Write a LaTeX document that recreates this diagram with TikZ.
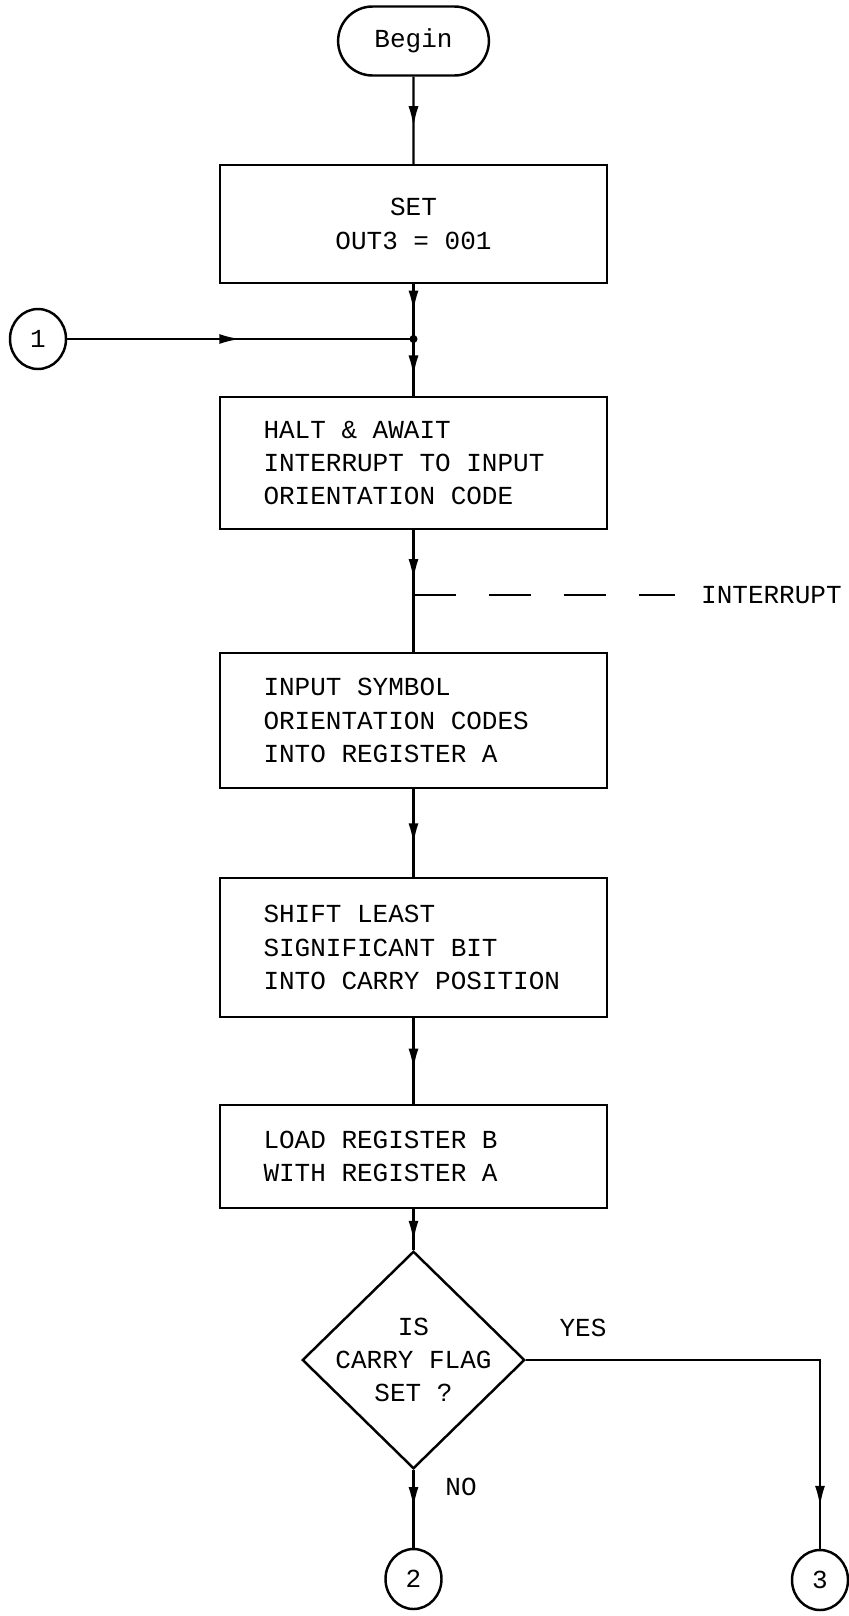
\documentclass[tikz,border=0pt]{standalone}
\usepackage{fontspec}
\setmonofont{Liberation Mono}
\usetikzlibrary{shapes.geometric,shapes.misc,decorations.markings,arrows.meta}
\newcommand{\flowfont}{\ttfamily\fontsize{14.8}{19}\selectfont
  \fontdimen2\font=8.88pt\relax\fontdimen3\font=0pt\relax\fontdimen4\font=0pt\relax}

\begin{document}
\begin{tikzpicture}[
  every node/.style={font=\flowfont},
  flow/.style={line width=1.4pt},
  midarr/.style={postaction={decorate, decoration={markings,
      mark=at position #1 with {\arrow{Latex[length=0.42cm,width=0.2cm]}}}}},
  term/.style={draw, line width=1.4pt, rounded rectangle, minimum width=3.25cm, minimum height=1.38cm},
  proc/.style={draw, line width=1.4pt, text width=6.0cm, inner xsep=0.87cm, align=flush left},
  decide/.style={draw, line width=1.4pt, diamond, aspect=1, inner sep=-0.2cm,
      minimum width=4.45cm, minimum height=4.35cm, align=center},
  conn/.style={draw, line width=1.4pt, ellipse, inner sep=0pt, minimum width=1.12cm, minimum height=1.2cm}
]
\useasboundingbox (0,0) rectangle (16.98,-32.32);

% main column
\node[term] (begin) at (8.27,-0.82) {Begin};
\node[proc, align=flush center, minimum height=2.36cm] (set) at (8.27,-4.48) {SET\\OUT3 = 001};
\node[proc, minimum height=2.64cm] (halt) at (8.27,-9.26)
   {HALT \& AWAIT\\INTERRUPT TO INPUT\\ORIENTATION CODE};
\node[proc, minimum height=2.7cm] (inp) at (8.27,-14.41)
   {INPUT SYMBOL\\ORIENTATION CODES\\INTO REGISTER A};
\node[proc, minimum height=2.78cm] (shift) at (8.27,-18.95)
   {SHIFT LEAST\\SIGNIFICANT BIT\\INTO CARRY POSITION};
\node[proc, minimum height=2.06cm] (load) at (8.27,-23.13)
   {LOAD REGISTER B\\WITH REGISTER A};
\node[decide] (carry) at (8.27,-27.2) {IS\\CARRY FLAG\\SET ?};

% off-page connectors
\node[conn] (c1) at (0.76,-6.78) {1};
\node[conn] (c2) at (8.27,-31.58) {2};
\node[conn] (c3) at (16.4,-31.6) {3};

\coordinate (jn) at (8.27,-6.78);
\coordinate (intjn) at (8.27,-11.9);
\node[anchor=west] (intr) at (13.9,-11.9) {INTERRUPT};
\node (yes) at (11.66,-26.56) {YES};
\node (no) at (9.22,-29.74) {NO};

\draw[flow, midarr=0.58] (begin) -- (set);
\draw[flow, midarr=0.5] (set) -- (jn);
\draw[flow, midarr=0.5] (c1) -- (jn);
\fill (jn) circle (0.08);
\draw[flow, midarr=0.66] (jn) -- (halt);
\draw[flow, midarr=0.41] (halt) -- (inp);
\draw[flow, dash pattern=on 0.84cm off 0.66cm, shorten >=0.4cm] (intjn) -- (intr.west);
\draw[flow, midarr=0.63] (inp) -- (shift);
\draw[flow, midarr=0.6] (shift) -- (load);
\draw[flow, midarr=0.8] (load) -- (carry);
\draw[flow, midarr=0.49] (carry) -- (c2);
\draw[flow, midarr=-0.84cm] (carry.east) -| (c3);
\end{tikzpicture}
\end{document}
